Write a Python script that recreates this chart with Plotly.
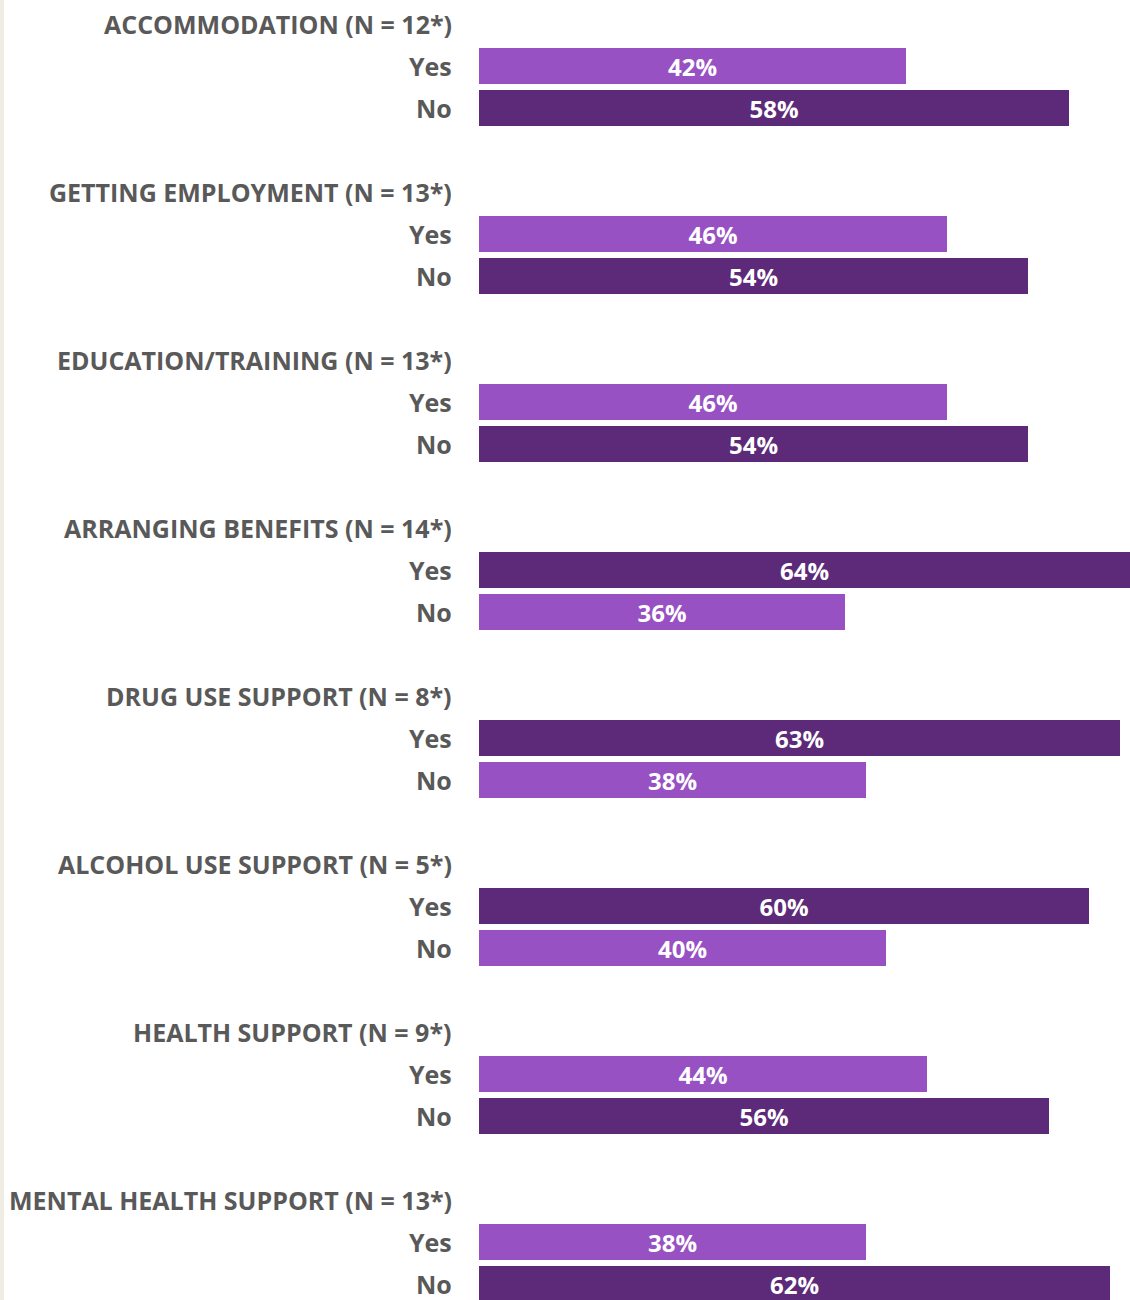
import plotly.graph_objects as go

# Service areas asked about, with respondent counts
categories = [
    "ACCOMMODATION (N = 12*)",
    "GETTING EMPLOYMENT (N = 13*)",
    "EDUCATION/TRAINING (N = 13*)",
    "ARRANGING BENEFITS (N = 14*)",
    "DRUG USE SUPPORT (N = 8*)",
    "ALCOHOL USE SUPPORT (N = 5*)",
    "HEALTH SUPPORT (N = 9*)",
    "MENTAL HEALTH SUPPORT (N = 13*)",
]
yes_pct = [42, 46, 46, 64, 63, 60, 44, 38]
no_pct = [58, 54, 54, 36, 38, 40, 56, 62]
answer_labels = ["Yes", "No"]

LIGHT = "#9751C3"
DARK = "#5C2A79"
GREY = "#595959"
FONT = "'Open Sans', Lato, sans-serif"
SIZE = 25

# Each group takes four rows: heading, Yes, No, spacer
ROW_STEP = 4
y_title = [ROW_STEP * i for i in range(len(categories))]
y_yes = [ROW_STEP * i + 1 for i in range(len(categories))]
y_no = [ROW_STEP * i + 2 for i in range(len(categories))]

yes_colors = [DARK if y > n else LIGHT for y, n in zip(yes_pct, no_pct)]
no_colors = [DARK if n > y else LIGHT for y, n in zip(yes_pct, no_pct)]

fig = go.Figure()
for vals, ys, cols in [(yes_pct, y_yes, yes_colors), (no_pct, y_no, no_colors)]:
    fig.add_trace(go.Bar(
        x=vals, y=ys, orientation="h",
        marker=dict(color=cols, line=dict(width=0)),
        width=0.86,
        text=[f"{v}%" for v in vals],
        textposition="inside",
        insidetextanchor="middle",
        textangle=0,
        constraintext="none",
        textfont=dict(family=FONT, size=24, color="white", weight="bold"),
        hoverinfo="skip",
        showlegend=False,
        cliponaxis=False,
    ))

annotations = []
for cat, yt, yy, yn in zip(categories, y_title, y_yes, y_no):
    annotations.append(dict(
        x=0, y=yt, xref="x", yref="y", xanchor="right", yanchor="middle",
        xshift=-25, text=f"<b>{cat}</b>", showarrow=False,
        font=dict(family=FONT, size=SIZE, color=GREY),
    ))
    for lab, yv in zip(answer_labels, [yy, yn]):
        annotations.append(dict(
            x=0, y=yv, xref="x", yref="y", xanchor="right", yanchor="middle",
            xshift=-25, text=f"<b>{lab}</b>", showarrow=False,
            font=dict(family=FONT, size=SIZE, color=GREY),
        ))

# Thin pale strip along the left edge
fig.add_shape(type="rect", xref="paper", yref="paper",
              x0=-479 / 651, x1=-475 / 651, y0=0, y1=1,
              fillcolor="#EEECE3", line=dict(width=0), layer="below")

fig.update_layout(
    width=1130, height=1300,
    margin=dict(l=479, r=0, t=0, b=0),
    paper_bgcolor="white", plot_bgcolor="white",
    bargap=0,
    annotations=annotations,
    xaxis=dict(range=[0, 64], visible=False, fixedrange=True),
    yaxis=dict(range=[30.381, -0.571], visible=False, fixedrange=True),
)

fig.write_html("out.html")
